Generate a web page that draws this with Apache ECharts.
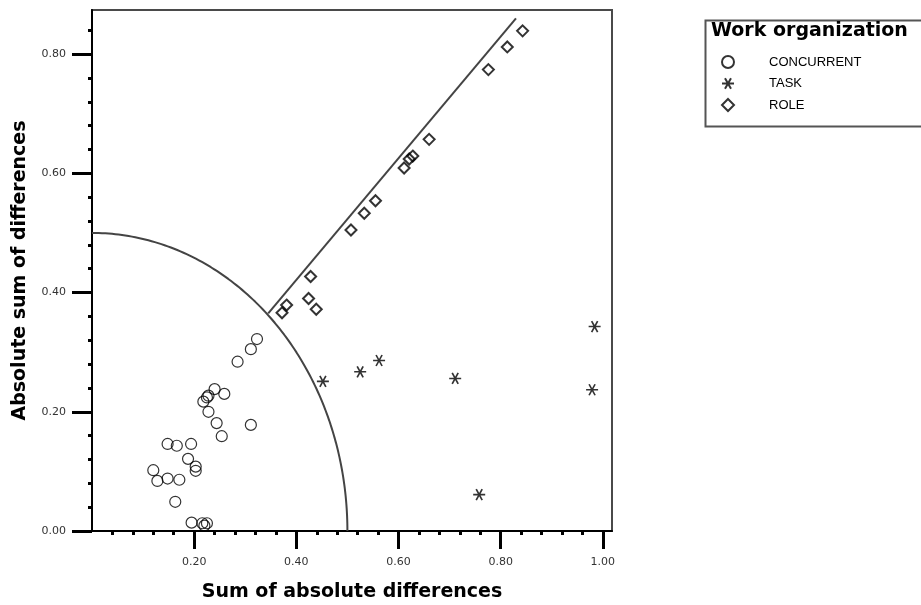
<!DOCTYPE html>
<html><head><meta charset="utf-8">
<script src="https://cdn.jsdelivr.net/npm/echarts@6/dist/echarts.min.js"></script>
<style>html,body{margin:0;padding:0;background:#fff}#c{width:921px;height:605px}</style>
</head><body><div id="c"></div>
<script>
// ---- data ----
const seriesNames = ['CONCURRENT', 'TASK', 'ROLE'];
const concurrentX = [0.323,0.311,0.285,0.240,0.259,0.228,0.225,0.218,0.228,0.244,0.311,0.254,0.148,0.166,0.194,0.188,0.203,0.203,0.120,0.128,0.148,0.171,0.163,0.195,0.216,0.225,0.220];
const concurrentY = [0.322,0.305,0.284,0.238,0.230,0.227,0.224,0.217,0.200,0.181,0.178,0.159,0.146,0.143,0.146,0.121,0.108,0.101,0.102,0.084,0.088,0.086,0.049,0.014,0.013,0.013,0.009];
const taskX = [0.984,0.979,0.562,0.525,0.452,0.711,0.758];
const taskY = [0.343,0.237,0.286,0.267,0.251,0.256,0.061];
const roleX = [0.843,0.813,0.776,0.660,0.628,0.621,0.611,0.555,0.533,0.507,0.428,0.424,0.439,0.381,0.372];
const roleY = [0.839,0.812,0.774,0.657,0.629,0.624,0.609,0.554,0.533,0.505,0.427,0.390,0.372,0.379,0.366];
const trendLineX = [0.345, 0.830];
const trendLineY = [0.365, 0.860];
const arcRadius = 0.5;
const xMajorTicks = [0.2, 0.4, 0.6, 0.8, 1.0];
const xMinorTicks = [0.04,0.08,0.12,0.16,0.24,0.28,0.32,0.36,0.44,0.48,0.52,0.56,0.64,0.68,0.72,0.76,0.84,0.88,0.92,0.96];
const yMajorTicks = [0, 0.2, 0.4, 0.6, 0.8];
const yMinorTicks = [0.04,0.08,0.12,0.16,0.24,0.28,0.32,0.36,0.44,0.48,0.52,0.56,0.64,0.68,0.72,0.76,0.84];
const xTitle = 'Sum of absolute differences';
const yTitle = 'Absolute sum of differences';
const legendTitle = 'Work organization';

const zip = (a, b) => a.map((v, i) => [v, b[i]]);
const arcPoints = [];
for (let i = 0; i <= 120; i++) {
  const t = (Math.PI / 2) * i / 120;
  arcPoints.push([arcRadius * Math.cos(t), arcRadius * Math.sin(t)]);
}

const X_MAX = 1.018, Y_MAX = 0.874;
const labelFont = {fontFamily: 'DejaVu Sans', fontSize: 11, color: '#333'};
const titleFont = {fontFamily: 'DejaVu Sans', fontWeight: 'bold', fontSize: 19, color: '#000'};
const starPath = 'path://M0,5L10,5M2.5,0.67L7.5,9.33M2.5,9.33L7.5,0.67';

const chart = echarts.init(document.getElementById('c'), null, {renderer: 'canvas'});
chart.setOption({
  animation: false,
  backgroundColor: '#fff',
  grid: {left: 92, top: 10, width: 520, height: 521, show: true, borderColor: '#4a4a4a', borderWidth: 2,
         containLabel: false, outerBoundsMode: 'none'},
  xAxis: [{
    type: 'value', min: 0, max: X_MAX, gridIndex: 0,
    axisLine: {show: true, onZero: false, lineStyle: {color: '#000', width: 2}},
    axisTick: {show: true, length: 18, lineStyle: {color: '#000', width: 3}, customValues: xMajorTicks},
    axisLabel: Object.assign({customValues: xMajorTicks, margin: 26, formatter: v => v.toFixed(2)}, labelFont),
    splitLine: {show: false},
    name: xTitle, nameLocation: 'middle', nameGap: 52, nameTextStyle: titleFont
  }, {
    type: 'value', min: 0, max: X_MAX, gridIndex: 0, position: 'bottom',
    axisLine: {show: false, onZero: false},
    axisTick: {show: true, length: 4, lineStyle: {color: '#000', width: 3}, customValues: xMinorTicks},
    axisLabel: {show: false}, splitLine: {show: false}
  }],
  yAxis: [{
    type: 'value', min: 0, max: Y_MAX, gridIndex: 0,
    axisLine: {show: true, onZero: false, lineStyle: {color: '#000', width: 2}},
    axisTick: {show: true, length: 20, lineStyle: {color: '#000', width: 3}, customValues: yMajorTicks},
    axisLabel: Object.assign({customValues: yMajorTicks, margin: 26, formatter: v => v.toFixed(2)}, labelFont),
    splitLine: {show: false},
    name: yTitle, nameLocation: 'middle', nameGap: 62, nameTextStyle: titleFont
  }, {
    type: 'value', min: 0, max: Y_MAX, gridIndex: 0, position: 'left',
    axisLine: {show: false, onZero: false},
    axisTick: {show: true, length: 4, lineStyle: {color: '#000', width: 3}, customValues: yMinorTicks},
    axisLabel: {show: false}, splitLine: {show: false}
  }],
  legend: {
    data: seriesNames, orient: 'vertical', left: 716, top: 50,
    itemWidth: 12, itemHeight: 12, itemGap: 8, selectedMode: false,
    textStyle: {fontFamily: 'Liberation Sans', fontSize: 13, color: '#000', padding: [0, 0, 0, 30]}
  },
  graphic: [
    {type: 'rect', left: 703, top: 18, shape: {width: 240, height: 106}, style: {fill: 'none', stroke: '#555', lineWidth: 2}},
    {type: 'text', left: 711, top: 22, style: {text: legendTitle, font: 'bold 19px "DejaVu Sans"', fill: '#000'}}
  ],
  series: [
    {type: 'line', data: arcPoints, showSymbol: false, symbol: 'none', lineStyle: {color: '#444', width: 2}, z: 1, silent: true},
    {type: 'line', data: zip(trendLineX, trendLineY), showSymbol: false, symbol: 'none', lineStyle: {color: '#444', width: 2}, z: 1, silent: true},
    {name: 'CONCURRENT', type: 'scatter', data: zip(concurrentX, concurrentY), symbol: 'circle', symbolSize: 11,
     itemStyle: {color: 'rgba(0,0,0,0)', borderColor: '#000', borderWidth: 1.2}, z: 3},
    {name: 'TASK', type: 'scatter', data: zip(taskX, taskY), symbol: starPath, symbolSize: [12, 11],
     itemStyle: {color: 'rgba(0,0,0,0)', borderColor: '#000', borderWidth: 1.6}, z: 3},
    {name: 'ROLE', type: 'scatter', data: zip(roleX, roleY), symbol: 'diamond', symbolSize: 11,
     itemStyle: {color: 'rgba(0,0,0,0)', borderColor: '#000', borderWidth: 2}, z: 3}
  ]
});
</script>
</body></html>
